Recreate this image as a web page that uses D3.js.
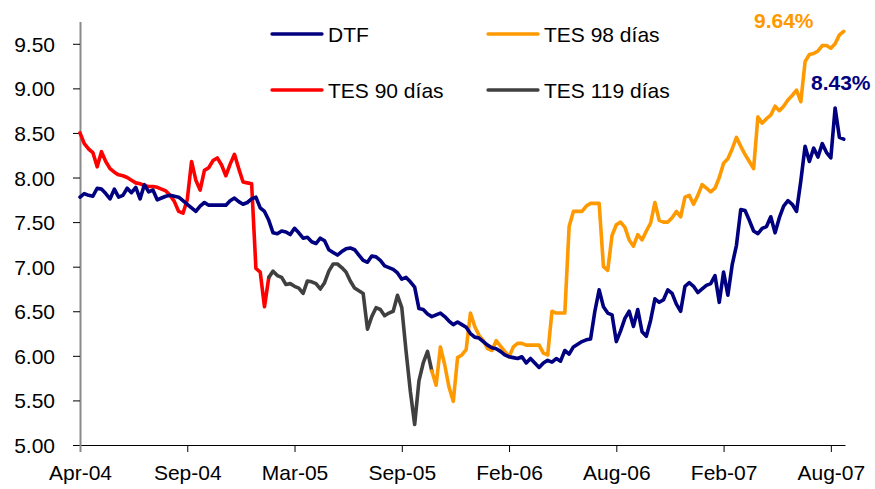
<!DOCTYPE html>
<html>
<head>
<meta charset="utf-8">
<script src="https://cdn.jsdelivr.net/npm/d3@7"></script>
<style>
  body { margin: 0; background: #fff; }
  svg text { font-family: 'Liberation Sans', Arial, sans-serif; }
</style>
</head>
<body>
<div id="chart_area"></div>
<script>
// weekly data, one label every 25 weeks
const tickLabels = ['Apr-04', 'Sep-04', 'Mar-05', 'Sep-05', 'Feb-06', 'Aug-06', 'Feb-07', 'Aug-07'];
const tickEvery = 25;

const dtf = [
  7.78, 7.82, 7.80, 7.79, 7.88, 7.87, 7.82, 7.76, 7.87, 7.78,
  7.80, 7.88, 7.83, 7.89, 7.76, 7.92, 7.84, 7.86, 7.75, 7.77,
  7.79, 7.80, 7.79, 7.78, 7.74, 7.70, 7.66, 7.62, 7.68, 7.72,
  7.69, 7.69, 7.69, 7.69, 7.69, 7.74, 7.77, 7.73, 7.70, 7.72,
  7.76, 7.78, 7.66, 7.62, 7.52, 7.38, 7.37, 7.40, 7.39, 7.36,
  7.43, 7.38, 7.32, 7.33, 7.28, 7.26, 7.32, 7.29, 7.19, 7.16,
  7.13, 7.17, 7.20, 7.21, 7.19, 7.13, 7.07, 7.05, 7.12, 7.11,
  7.07, 7.01, 6.99, 6.97, 6.93, 6.86, 6.88, 6.83, 6.77, 6.53,
  6.52, 6.47, 6.44, 6.46, 6.48, 6.44, 6.39, 6.35, 6.38, 6.35,
  6.32, 6.25, 6.21, 6.20, 6.16, 6.12, 6.09, 6.08, 6.05, 6.01,
  5.99, 5.98, 5.97, 5.99, 5.92, 5.97, 5.92, 5.87, 5.92, 5.95,
  5.93, 5.97, 5.94, 6.06, 6.02, 6.10, 6.13, 6.16, 6.18, 6.19,
  6.50, 6.74, 6.55, 6.48, 6.46, 6.16, 6.28, 6.42, 6.50, 6.33,
  6.52, 6.27, 6.22, 6.40, 6.64, 6.60, 6.63, 6.74, 6.70, 6.58,
  6.50, 6.78, 6.82, 6.78, 6.71, 6.75, 6.79, 6.81, 6.90, 6.60,
  6.94, 6.68, 7.02, 7.24, 7.64, 7.63, 7.52, 7.40, 7.37, 7.43,
  7.45, 7.56, 7.38, 7.55, 7.68, 7.74, 7.70, 7.62, 7.96, 8.35,
  8.18, 8.33, 8.23, 8.38, 8.28, 8.22, 8.78, 8.45, 8.43
];

const tes90Start = 0;
const tes90 = [
  8.50, 8.38, 8.32, 8.28, 8.12, 8.29, 8.18, 8.10, 8.06, 8.03,
  8.02, 8.00, 7.97, 7.94, 7.93, 7.91, 7.90, 7.90, 7.89, 7.87,
  7.85, 7.80, 7.73, 7.62, 7.60, 7.75, 8.18, 7.97, 7.86, 8.08,
  8.11, 8.19, 8.22, 8.14, 8.02, 8.15, 8.26, 8.10, 7.95, 7.94,
  7.93, 6.98, 6.94, 6.55, 6.88
];

const tes119Start = 44;
const tes119 = [
  6.88, 6.95, 6.90, 6.88, 6.80, 6.81, 6.78, 6.76, 6.70, 6.84,
  6.83, 6.81, 6.75, 6.82, 6.95, 7.03, 7.03, 6.99, 6.94, 6.84,
  6.76, 6.73, 6.70, 6.30, 6.44, 6.54, 6.52, 6.45, 6.48, 6.50,
  6.68, 6.54, 6.05, 5.60, 5.23, 5.72, 5.92, 6.05, 5.83
];

const tes98Start = 82;
const tes98 = [
  5.83, 5.67, 6.10, 5.90, 5.65, 5.49, 5.98, 6.01, 6.07, 6.48,
  6.33, 6.23, 6.17, 6.08, 6.06, 6.17, 6.11, 6.05, 5.99, 6.10,
  6.14, 6.14, 6.12, 6.12, 6.12, 6.12, 6.03, 6.01, 6.50, 6.48,
  6.48, 6.48, 7.45, 7.62, 7.62, 7.62, 7.68, 7.71, 7.71, 7.71,
  7.00, 6.96, 7.35, 7.47, 7.50, 7.44, 7.30, 7.23, 7.36, 7.30,
  7.40, 7.49, 7.72, 7.52, 7.50, 7.50, 7.55, 7.62, 7.56, 7.78,
  7.80, 7.70, 7.80, 7.92, 7.88, 7.84, 7.88, 8.00, 8.16, 8.21,
  8.32, 8.45, 8.35, 8.26, 8.18, 8.10, 8.68, 8.61, 8.66, 8.70,
  8.80, 8.75, 8.80, 8.87, 8.92, 8.98, 8.85, 9.30, 9.38, 9.39,
  9.42, 9.48, 9.48, 9.45, 9.50, 9.60, 9.64
];

const yTicks = [5, 5.5, 6, 6.5, 7, 7.5, 8, 8.5, 9, 9.5];

// dimensions
const width = 875;
const height = 489;
const plot = { left: 80, right: 845, top: 21.5, bottom: 445 };

const svg = d3
  .select('#chart_area')
  .append('svg')
  .attr('width', width)
  .attr('height', height);

// scales
const x = d3.scaleLinear().domain([0, 178.3]).range([plot.left, plot.right]);
const y = d3.scaleLinear().domain([5, 9.75]).range([plot.bottom, plot.top]);

// axes
const xAxis = d3
  .axisBottom(x)
  .tickValues(tickLabels.map((d, i) => i * tickEvery))
  .tickFormat((d, i) => tickLabels[i])
  .tickSize(7)
  .tickSizeOuter(0)
  .tickPadding(13);

const yAxis = d3
  .axisLeft(y)
  .tickValues(yTicks)
  .tickFormat(d3.format('.2f'))
  .tickSize(7)
  .tickSizeOuter(0)
  .tickPadding(18);

const yAxisGroup = svg
  .append('g')
  .attr('transform', 'translate(' + plot.left + ',0)')
  .call(yAxis);
const xAxisGroup = svg
  .append('g')
  .attr('transform', 'translate(0,' + plot.bottom + ')')
  .call(xAxis);

[xAxisGroup, yAxisGroup].forEach(g => {
  g.attr('font-family', null).attr('font-size', null);
  g.selectAll('text').attr('font-size', '21px').attr('fill', '#000');
  g.selectAll('line, path').attr('stroke', '#000');
});
yAxisGroup.selectAll('text').attr('dy', '0.36em');
// vertical axis line is grey in the original
yAxisGroup.select('.domain').attr('stroke', '#8a8a8a').attr('stroke-width', 2);
xAxisGroup.select('.tick line').attr('stroke', '#8a8a8a').attr('stroke-width', 2);

// series
function toPoints(values, start) {
  return values.map((v, k) => ({ i: start + k, v: v }));
}

const series = [
  { name: 'TES 90 días', color: '#ff0000', points: toPoints(tes90, tes90Start) },
  { name: 'TES 119 días', color: '#404040', points: toPoints(tes119, tes119Start) },
  { name: 'TES 98 días', color: '#ff9900', points: toPoints(tes98, tes98Start) },
  { name: 'DTF', color: '#000080', points: toPoints(dtf, 0) },
];

const line = d3
  .line()
  .x(d => x(d.i))
  .y(d => y(d.v));

svg
  .selectAll('path.series')
  .data(series)
  .enter()
  .append('path')
  .attr('class', 'series')
  .attr('fill', 'none')
  .attr('stroke', d => d.color)
  .attr('stroke-width', 3.6)
  .attr('stroke-linejoin', 'round')
  .attr('stroke-linecap', 'round')
  .attr('d', d => line(d.points));

// legend
const legendItems = [
  { name: 'DTF', color: '#000080', lx: 272, ly: 34 },
  { name: 'TES 98 días', color: '#ff9900', lx: 488, ly: 34 },
  { name: 'TES 90 días', color: '#ff0000', lx: 272, ly: 90 },
  { name: 'TES 119 días', color: '#404040', lx: 488, ly: 90 },
];
const legend = svg
  .selectAll('g.legend')
  .data(legendItems)
  .enter()
  .append('g')
  .attr('class', 'legend')
  .attr('transform', d => 'translate(' + d.lx + ',' + d.ly + ')');
legend
  .append('line')
  .attr('x1', 0)
  .attr('x2', 50)
  .attr('stroke', d => d.color)
  .attr('stroke-width', 3.3)
  .attr('stroke-linecap', 'round');
legend
  .append('text')
  .attr('x', 56)
  .attr('y', 8)
  .attr('font-size', '21px')
  .text(d => d.name);

// end labels
svg
  .append('text')
  .attr('x', 754)
  .attr('y', 28)
  .attr('font-size', '21px')
  .attr('font-weight', 'bold')
  .attr('fill', '#ff9900')
  .text(tes98[tes98.length - 1].toFixed(2) + '%');
svg
  .append('text')
  .attr('x', 811)
  .attr('y', 90)
  .attr('font-size', '21px')
  .attr('font-weight', 'bold')
  .attr('fill', '#000080')
  .text(dtf[dtf.length - 1].toFixed(2) + '%');
</script>
</body>
</html>
